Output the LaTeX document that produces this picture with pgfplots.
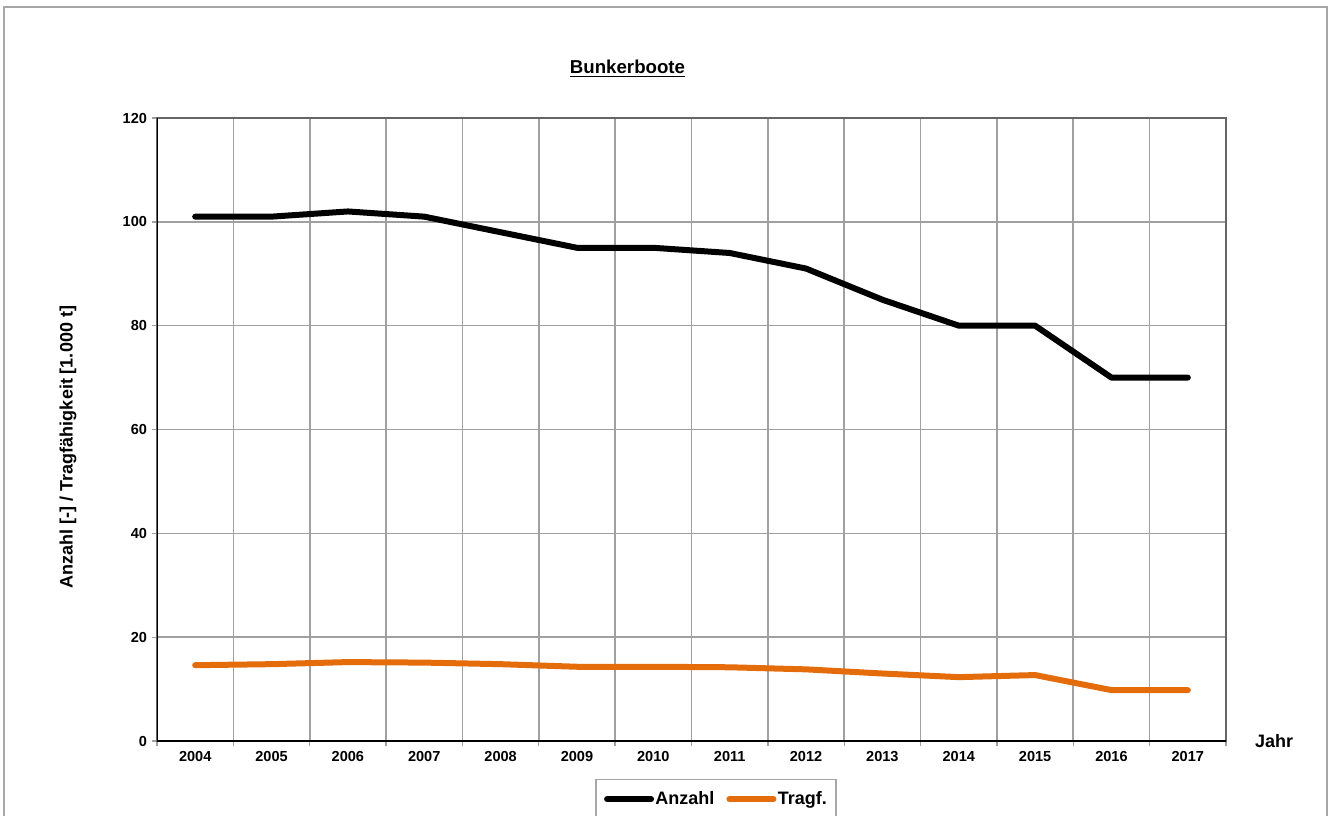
\documentclass[border=0pt]{standalone}
\usepackage{fontspec}
\setmainfont{Liberation Sans}
\usepackage{pgfplots}
\pgfplotsset{compat=1.18}
\definecolor{tragf}{HTML}{E46C0A}
\definecolor{gridc}{HTML}{A0A0A0}
\definecolor{frame}{HTML}{A6A6A6}
\begin{document}
\begin{tikzpicture}[x=0.75pt,y=0.75pt]
\useasboundingbox (0,0) rectangle (1332,815);
\draw[frame, line width=0.9pt] (4,-10) -- (4,808) -- (1327,808) -- (1327,-10);
\node[font=\fontsize{14}{16}\selectfont\bfseries, anchor=base] at (627.5,741) {\underline{Bunkerboote}};
\node[font=\fontsize{13.5}{16}\selectfont\bfseries, rotate=90] at (68,368) {Anzahl [-] / Tragfähigkeit [1.000 t]};
\node[font=\fontsize{13.5}{16}\selectfont\bfseries, anchor=base] at (1274,68) {Jahr};
\begin{axis}[
  at={(117.75pt,55.5pt)}, anchor=south west,
  scale only axis, width=801.75pt, height=467.25pt,
  xmin=-0.5, xmax=13.5, ymin=0, ymax=120,
  xtick={-0.5,0.5,...,13.5}, xticklabels={},
  extra x ticks={0,1,2,3,4,5,6,7,8,9,10,11,12,13},
  extra x tick labels={2004,2005,2006,2007,2008,2009,2010,2011,2012,2013,2014,2015,2016,2017},
  extra x tick style={grid=none, major tick length=0pt},
  ytick={0,20,...,120},
  xtick pos=left, ytick pos=left,
  xmajorgrids, ymajorgrids,
  grid style={gridc, line width=1.2pt},
  axis line style={draw=black!60, line width=1.5pt},
  tick align=outside,
  major tick length=4pt,
  tick style={gridc, line width=1pt},
  /pgf/number format/assume math mode=true,
  ticklabel style={font=\fontsize{10.9}{13}\selectfont\bfseries},
  xticklabel style={yshift=-4pt},
  legend style={at={(0.523,-0.061)}, anchor=north, draw=frame, line width=0.9pt,
    legend columns=2, font=\fontsize{13.5}{16}\selectfont\bfseries,
    inner xsep=6pt, inner ysep=8pt,
    /tikz/every even column/.append style={column sep=8pt},
    nodes={inner sep=1pt}},
  legend image code/.code={\draw[#1, line cap=round] (0pt,0pt) -- (33pt,0pt);},
  legend cell align=left,
]
\addplot[black, line width=4.5pt, line join=round, line cap=round] coordinates {
(0,101) (1,101) (2,102) (3,101) (4,98) (5,95) (6,95) (7,94) (8,91) (9,85) (10,80) (11,80) (12,70) (13,70)};
\addlegendentry{Anzahl}
\addplot[tragf, line width=4.5pt, line join=round, line cap=round] coordinates {
(0,14.6) (1,14.8) (2,15.2) (3,15.1) (4,14.8) (5,14.3) (6,14.3) (7,14.2) (8,13.8) (9,13.0) (10,12.3) (11,12.7) (12,9.8) (13,9.8)};
\addlegendentry{Tragf.}
\draw[black, line width=1.5pt] (rel axis cs:0,1) -- (rel axis cs:0,0) -- (rel axis cs:1,0);
\end{axis}
\end{tikzpicture}
\end{document}
